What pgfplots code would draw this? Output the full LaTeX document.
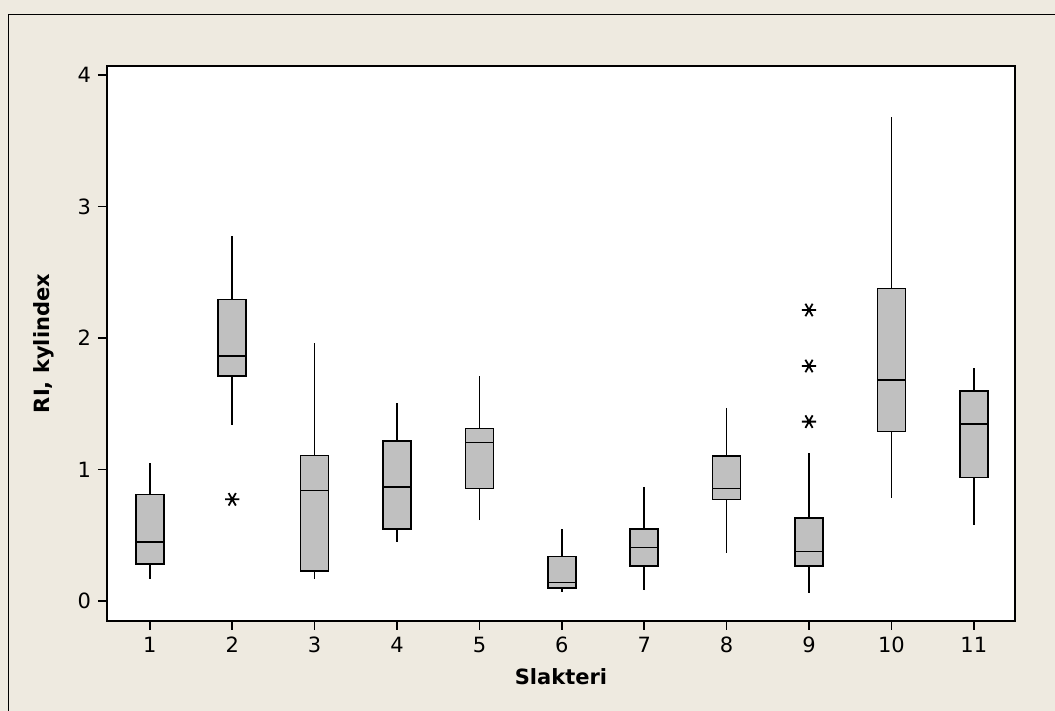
\documentclass[border=0pt]{standalone}
\usepackage{fontspec}
\setmainfont{DejaVu Sans}
\usepackage{pgfplots}
\pgfplotsset{compat=1.18}
\usepgfplotslibrary{statistics}
\definecolor{bgbeige}{RGB}{238,234,224}
\definecolor{boxgray}{RGB}{192,192,192}
\pgfplotsset{
  mybox/.style={draw=black, fill=boxgray, line width=0.75pt, solid,
    mark=asterisk, mark size=3.6pt, mark options={fill=none, line width=0.9pt, rotate=90}},
}
\begin{document}
\begin{tikzpicture}[x=1pt,y=1pt]
\fill[bgbeige] (0,0) rectangle (527.5,355.5);
\useasboundingbox (0,0) rectangle (527.5,355.5);
\draw[line width=0.9pt] (4.2,0) -- (4.2,348.2) -- (527.5,348.2);
\begin{axis}[
  at={(53.5pt,45pt)}, anchor=south west,
  scale only axis, width=454pt, height=277.5pt,
  xmin=0.48, xmax=11.5, ymin=-0.152, ymax=4.068,
  axis background/.style={fill=white},
  axis line style={line width=1pt},
  xtick={1,2,3,4,5,6,7,8,9,10,11}, ytick={0,1,2,3,4},
  tick align=outside, xtick pos=bottom, ytick pos=left,
  major tick length=4.5pt, tick style={line width=0.8pt, black},
  font=\fontsize{10.5}{12}\selectfont,
  /pgf/number format/assume math mode=true,
  xlabel={\bfseries Slakteri}, ylabel={\bfseries RI, kylindex},
  xlabel shift=1pt, ylabel shift=5pt,
  boxplot/draw direction=y,
  boxplot/box extend=0.34,
  boxplot/whisker extend=0,
  clip=false,
]
\addplot[mybox, boxplot prepared={draw position=1, lower whisker=0.167, lower quartile=0.281, median=0.45, upper quartile=0.81, upper whisker=1.05}] coordinates {};
\addplot[mybox, boxplot prepared={draw position=2, lower whisker=1.338, lower quartile=1.709, median=1.863, upper quartile=2.294, upper whisker=2.776}] table[row sep=\\, y index=0] {0.773\\};
\addplot[mybox, boxplot prepared={draw position=3, lower whisker=0.167, lower quartile=0.228, median=0.842, upper quartile=1.105, upper whisker=1.96}] coordinates {};
\addplot[mybox, boxplot prepared={draw position=4, lower whisker=0.446, lower quartile=0.548, median=0.867, upper quartile=1.217, upper whisker=1.503}] coordinates {};
\addplot[mybox, boxplot prepared={draw position=5, lower whisker=0.613, lower quartile=0.854, median=1.207, upper quartile=1.313, upper whisker=1.711}] coordinates {};
\addplot[mybox, boxplot prepared={draw position=6, lower whisker=0.068, lower quartile=0.099, median=0.142, upper quartile=0.337, upper whisker=0.55}] coordinates {};
\addplot[mybox, boxplot prepared={draw position=7, lower whisker=0.081, lower quartile=0.266, median=0.408, upper quartile=0.548, upper whisker=0.869}] coordinates {};
\addplot[mybox, boxplot prepared={draw position=8, lower whisker=0.367, lower quartile=0.771, median=0.857, upper quartile=1.103, upper whisker=1.47}] coordinates {};
\addplot[mybox, boxplot prepared={draw position=9, lower whisker=0.058, lower quartile=0.266, median=0.378, upper quartile=0.631, upper whisker=1.123}] table[row sep=\\, y index=0] {1.364\\ 1.787\\ 2.213\\};
\addplot[mybox, boxplot prepared={draw position=10, lower whisker=0.786, lower quartile=1.288, median=1.681, upper quartile=2.378, upper whisker=3.678}] coordinates {};
\addplot[mybox, boxplot prepared={draw position=11, lower whisker=0.58, lower quartile=0.938, median=1.346, upper quartile=1.597, upper whisker=1.77}] coordinates {};
\end{axis}
\end{tikzpicture}
\end{document}
